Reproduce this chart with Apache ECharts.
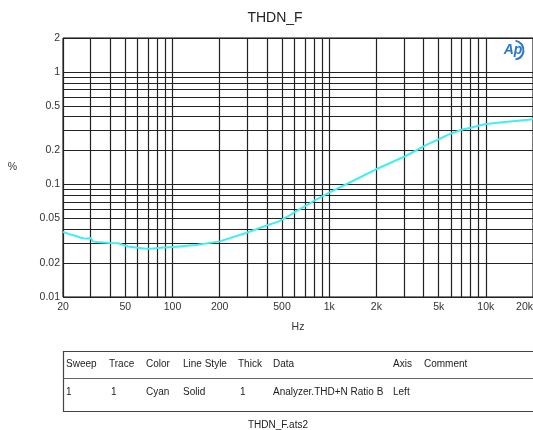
<!DOCTYPE html>
<html>
<head>
<meta charset="utf-8">
<script src="https://cdn.jsdelivr.net/npm/echarts@6/dist/echarts.min.js"></script>
<style>
html,body{margin:0;padding:0;background:#fff;}
#chart{width:533px;height:430px;}
</style>
</head>
<body>
<div id="chart"></div>
<script>
// ---- data ----
const freqs = [20, 22, 24, 26, 28, 30, 31, 33, 40, 45, 48, 52, 60, 68, 75, 83, 95, 106, 128, 141, 200, 294, 394, 478, 554, 646, 726, 820, 1000, 1332, 1960, 3052, 4300, 5000, 5770, 6980, 8100, 10000, 13200, 18600, 20000];
const thdn  = [0.0378, 0.0362, 0.0350, 0.0336, 0.0330, 0.0335, 0.0312, 0.0308, 0.0302, 0.0300, 0.0292, 0.0281, 0.0274, 0.0269, 0.0270, 0.0274, 0.0277, 0.0279, 0.0287, 0.0290, 0.0312, 0.0370, 0.0430, 0.0470, 0.0528, 0.0600, 0.0660, 0.0730, 0.0845, 0.1030, 0.1350, 0.1780, 0.2290, 0.2520, 0.2770, 0.3060, 0.3210, 0.3440, 0.3590, 0.3760, 0.3800];

const xGridValues = [20,30,40,50,60,70,80,90,100,200,300,400,500,600,700,800,900,1000,2000,3000,4000,5000,6000,7000,8000,9000,10000,20000];
const yGridValues = [0.01,0.02,0.03,0.04,0.05,0.06,0.07,0.08,0.09,0.1,0.2,0.3,0.4,0.5,0.6,0.7,0.8,0.9,1,2];

const xTickValues = [20,50,100,200,500,1000,2000,5000,10000,20000];
const xTickLabels = ['20','50','100','200','500','1k','2k','5k','10k','20k'];
const yTickValues = [0.01,0.02,0.05,0.1,0.2,0.5,1,2];
const yTickLabels = ['0.01','0.02','0.05','0.1','0.2','0.5','1','2'];

const chartTitle = 'THDN_F';
const xAxisName = 'Hz';
const yAxisName = '%';
const tableHeaders = ['Sweep','Trace','Color','Line Style','Thick','Data','Axis','Comment'];
const tableRow = ['1','1','Cyan','Solid','1','Analyzer.THD+N Ratio B','Left',''];
const fileName = 'THDN_F.ats2';

// ---- layout / styles ----
const labelFont = {fontFamily:'Liberation Sans, Arial, sans-serif', fontSize:10.5, color:'#333'};
const gridColor = '#222';

const xMarkData = xGridValues.map(v => {
  const i = xTickValues.indexOf(v);
  const lab = i >= 0 ? Object.assign({show:true, position:'start', distance:5, formatter: xTickLabels[i]}, labelFont) : {show:false};
  if (v === 20000) { lab.align = 'right'; }
  return {xAxis: v, label: lab};
});
const yMarkData = yGridValues.map(v => {
  const i = yTickValues.indexOf(v);
  const lab = i >= 0 ? Object.assign({show:true, position:'start', distance:3, formatter: yTickLabels[i]}, labelFont) : {show:false};
  return {yAxis: v, label: lab};
});

const colX = [66, 109, 146, 183, 238, 273, 393, 424];
const textStyleBase = {fontFamily:'Liberation Sans, Arial, sans-serif', fontSize:10, fill:'#222'};
const tableGraphics = [];
tableGraphics.push({type:'rect', shape:{x:63.5, y:351.5, width:480, height:60}, style:{fill:'none', stroke:'#444', lineWidth:1.2}, silent:true});
tableGraphics.push({type:'line', shape:{x1:63.5, y1:378.5, x2:540, y2:378.5}, style:{stroke:'#666', lineWidth:1}, silent:true});
tableHeaders.forEach((h, i) => {
  tableGraphics.push({type:'text', x: colX[i], y: 364, style: Object.assign({text:h, verticalAlign:'middle'}, textStyleBase), silent:true});
});
tableRow.forEach((h, i) => {
  if (!h) return;
  tableGraphics.push({type:'text', x: colX[i] + (i===1?2:(i===4?2:0)), y: 392, style: Object.assign({text:h, verticalAlign:'middle'}, textStyleBase), silent:true});
});

const chart = echarts.init(document.getElementById('chart'), null, {renderer:'canvas'});
chart.setOption({
  animation: false,
  backgroundColor: '#fff',
  grid: {left:63, right:-1, top:38, bottom:133, show:true, borderColor:'#000', borderWidth:1, backgroundColor:'transparent'},
  xAxis: {
    type:'log', logBase:10, min:20, max:20000,
    axisLine:{show:false}, axisTick:{show:false}, axisLabel:{show:false}, splitLine:{show:false},
    name: xAxisName, nameLocation:'middle', nameGap:25,
    nameTextStyle:{fontFamily:'Liberation Sans, Arial, sans-serif', fontSize:10.5, color:'#333'}
  },
  yAxis: {
    type:'log', logBase:10, min:0.01, max:2,
    axisLine:{show:false}, axisTick:{show:false}, axisLabel:{show:false}, splitLine:{show:false},
    name: yAxisName, nameLocation:'middle', nameGap:46, nameRotate:0,
    nameTextStyle:{fontFamily:'Liberation Sans, Arial, sans-serif', fontSize:10.5, color:'#333'}
  },
  series: [
    {
      type:'line', data:[], z:1, silent:true,
      markLine: {
        silent:true, symbol:['none','none'], animation:false,
        lineStyle:{color:gridColor, width:1.2, type:'solid', opacity:1},
        emphasis:{disabled:true},
        data: xMarkData.concat(yMarkData)
      }
    },
    {
      type:'line', z:5, showSymbol:false, smooth:false,
      lineStyle:{color:'#40f0f0', width:2},
      itemStyle:{color:'#40f0f0'},
      data: freqs.map((f,i) => [f, thdn[i]])
    }
  ],
  graphic: [
    {type:'text', x:275, y:18, style:{text:chartTitle, fontFamily:'Liberation Sans, Arial, sans-serif', fontSize:14, fill:'#222', align:'center', verticalAlign:'middle'}, silent:true},
    {type:'text', x:278, y:425, style:Object.assign({text:fileName, align:'center', verticalAlign:'middle'}, textStyleBase), silent:true},
    {type:'text', x:513, y:50, style:{text:'Ap', fontFamily:'Liberation Sans, Arial, sans-serif', fontSize:14, fontWeight:'bold', fontStyle:'italic', fill:'#2a78c8', align:'center', verticalAlign:'middle'}, silent:true},
    {type:'arc', shape:{cx:514, cy:50, r:9.5, startAngle:-Math.PI*0.45, endAngle:Math.PI*0.45}, style:{stroke:'#2a78c8', lineWidth:2, fill:'none'}, silent:true}
  ].concat(tableGraphics)
});
</script>
</body>
</html>
